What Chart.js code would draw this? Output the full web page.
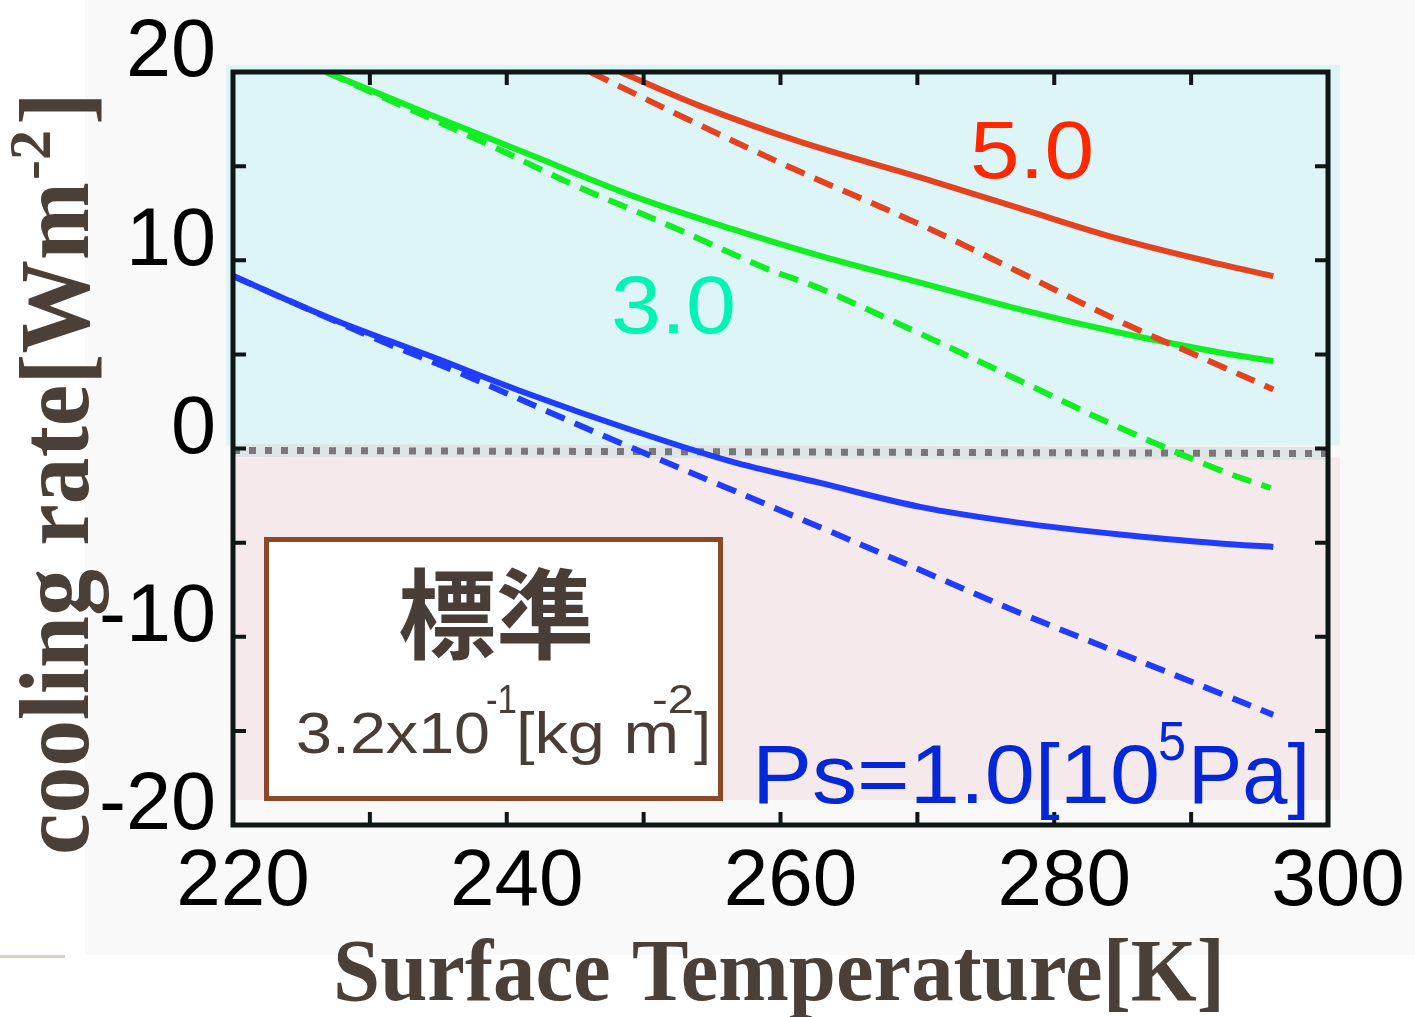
<!DOCTYPE html>
<html>
<head>
<meta charset="utf-8">
<script src="https://cdn.jsdelivr.net/npm/chart.js@4.4.1/dist/chart.umd.min.js"></script>
<style>
  html, body { margin: 0; padding: 0; background: #ffffff; }
  #wrap { width: 1415px; height: 1017px; position: relative; }
</style>
</head>
<body>
<div id="wrap"><canvas id="coolChart" width="1415" height="1017"></canvas></div>
<script>
// Axis ticks and labels
const xTickLabels = [220, 240, 260, 280, 300];
const yTickLabels = [20, 10, 0, -10, -20];
const xTickMarks = [220, 230, 240, 250, 260, 270, 280, 290, 300];
const yTickMarks = [20, 15, 10, 5, 0, -5, -10, -15, -20];

// Ps = 1.0 (blue)
const blueSolidT = [220, 227, 234.4, 241.7, 249, 256.3, 262.9, 270.2, 277.5, 284.8, 292.1, 296];
const blueSolidV = [9.16, 6.95, 4.91, 2.87, 1.01, -0.67, -1.83, -3.1, -3.95, -4.57, -5.05, -5.23];
const blueDashT = [220, 230.7, 236.8, 243.2, 248, 255.8, 263.6, 270.7, 277.5, 284.8, 292.1, 296];
const blueDashV = [9.16, 5.75, 3.94, 1.9, 0.39, -2.0, -4.4, -6.61, -8.74, -10.87, -13.0, -14.15];

// 3.0 (green)
const greenSolidT = [226.8, 234.6, 241.9, 249.2, 256.5, 262.9, 270.2, 277.5, 284.8, 292.1, 296];
const greenSolidV = [20, 17.68, 15.55, 13.42, 11.65, 10.23, 8.81, 7.39, 6.15, 5.1, 4.64];
const greenDashT = [226.8, 238.5, 244.9, 251.7, 259, 262.9, 270.2, 277.5, 284.8, 292.1, 295.8];
const greenDashV = [20, 16.2, 14.0, 11.9, 9.55, 8.5, 6.1, 3.6, 1.1, -1.15, -2.1];

// 5.0 (red)
const redSolidT = [248.3, 254.1, 261.4, 270.2, 277.5, 284.8, 292.1, 296];
const redSolidV = [20, 18.2, 16.3, 14.4, 12.75, 11.12, 9.79, 9.16];
const redDashT = [246.1, 252.9, 260.2, 270.2, 277.5, 284.8, 292.1, 296];
const redDashV = [20, 17.6, 15.1, 11.9, 9.35, 6.75, 4.4, 3.14];

// zero reference (dotted)
const zeroT = [220, 300];
const zeroV = [-0.1, -0.27];

function pts(ts, vs) {
    return ts.map((t, i) => ({ x: t, y: vs[i] }));
}

// draw text squeezed/stretched to a given width
function fitText(ctx, text, x, y, width) {
    const w = ctx.measureText(text).width;
    ctx.save();
    ctx.translate(x, y);
    ctx.scale(width / w, 1);
    ctx.fillText(text, 0, 0);
    ctx.restore();
}

const BLUE = '#1f3cff';
const GREEN = '#11ee22';
const RED = '#e5431f';
const DASH = [20, 11];

// page background + coloured panels
const panelPlugin = {
    id: 'panels',
    beforeDraw(chart) {
        const c = chart.ctx;
        c.save();
        c.fillStyle = '#ffffff';
        c.fillRect(0, 0, chart.width, chart.height);
        c.fillStyle = '#f9f9f9';
        c.fillRect(85, 0, chart.width - 85, 955);
        c.fillStyle = '#ddd0b6';
        c.fillRect(0, 955, 65, 3);
        c.restore();
    },
    beforeDatasetsDraw(chart) {
        const c = chart.ctx;
        const x = chart.scales.x, y = chart.scales.y;
        const left = x.getPixelForValue(220), right = x.getPixelForValue(300);
        const y0 = y.getPixelForValue(0);
        c.save();
        c.fillStyle = '#ddf5f6';
        c.fillRect(left - 7, y.getPixelForValue(20) - 7, right - left + 19, y0 - 3 - (y.getPixelForValue(20) - 7));
        c.fillStyle = '#f6e9ec';
        c.fillRect(left, y0 + 9, right - left + 12, 800 - (y0 + 9));
        c.restore();
    }
};

// frame, inward ticks, tick labels, titles and notes
const framePlugin = {
    id: 'frame',
    afterDatasetsDraw(chart) {
        const c = chart.ctx;
        const x = chart.scales.x, y = chart.scales.y;
        const L = x.getPixelForValue(220), R = x.getPixelForValue(300);
        const T = y.getPixelForValue(20), B = y.getPixelForValue(-20);
        c.save();
        c.strokeStyle = '#0e1616';
        c.lineWidth = 5;
        c.strokeRect(L, T, R - L, B - T);
        c.lineWidth = 4;
        c.beginPath();
        xTickMarks.forEach(v => {
            const px = x.getPixelForValue(v);
            c.moveTo(px, B); c.lineTo(px, B - 13);
            c.moveTo(px, T); c.lineTo(px, T + 13);
        });
        yTickMarks.forEach(v => {
            const py = y.getPixelForValue(v);
            c.moveTo(L, py); c.lineTo(L + 13, py);
            c.moveTo(R, py); c.lineTo(R - 13, py);
        });
        c.stroke();

        // tick labels
        c.fillStyle = '#000000';
        c.font = '81px "Liberation Sans", Arial, sans-serif';
        c.textAlign = 'right';
        c.textBaseline = 'middle';
        yTickLabels.forEach(v => {
            c.fillText(String(v).replace('-', '-'), 216, y.getPixelForValue(v) - 18);
        });
        c.textAlign = 'center';
        c.textBaseline = 'alphabetic';
        c.font = '80px "Liberation Sans", Arial, sans-serif';
        xTickLabels.forEach(v => {
            c.fillText(String(v), x.getPixelForValue(v) + 10, 905);
        });
        c.restore();
    },
    afterDraw(chart) {
        const c = chart.ctx;
        c.save();
        c.textAlign = 'left';
        c.textBaseline = 'alphabetic';

        // x title
        c.fillStyle = '#4b4037';
        c.font = 'bold 88px "Liberation Serif", "Times New Roman", serif';
        fitText(c, 'Surface Temperature[K]', 333, 1000, 892);

        // y title (rotated)
        c.save();
        c.translate(88, 855);
        c.rotate(-Math.PI / 2);
        c.font = 'bold 100px "Liberation Serif", "Times New Roman", serif';
        fitText(c, 'cooling rate[Wm', 0, 0, 673);
        c.font = 'bold 60px "Liberation Serif", "Times New Roman", serif';
        fitText(c, '-2', 675, -38, 50);
        c.font = 'bold 100px "Liberation Serif", "Times New Roman", serif';
        fitText(c, ']', 730, 0, 33);
        c.restore();

        // curve labels
        c.font = '81px "Liberation Sans", Arial, sans-serif';
        c.fillStyle = '#ff2600';
        fitText(c, '5.0', 970, 178, 124);
        c.fillStyle = '#00f5b4';
        fitText(c, '3.0', 611, 333, 125);

        c.fillStyle = '#0428d8';
        c.font = '84px "Liberation Sans", Arial, sans-serif';
        fitText(c, 'Ps=1.0[10', 752, 803, 408);
        c.font = '56px "Liberation Sans", Arial, sans-serif';
        fitText(c, '5', 1158, 760, 28);
        c.font = '84px "Liberation Sans", Arial, sans-serif';
        fitText(c, 'Pa]', 1188, 803, 122);

        // legend box
        c.fillStyle = '#ffffff';
        c.fillRect(266, 539, 454, 260);
        c.strokeStyle = '#8a4a2a';
        c.lineWidth = 5;
        c.strokeRect(266.5, 539.5, 454, 259);

        c.fillStyle = '#483e37';
        c.font = 'bold 98px "Noto Sans CJK JP", sans-serif';
        c.textAlign = 'center';
        c.textBaseline = 'middle';
        c.fillText('標準', 496, 614);

        c.textAlign = 'left';
        c.textBaseline = 'alphabetic';
        c.font = '57px "Liberation Sans", Arial, sans-serif';
        fitText(c, '3.2x10', 296, 753, 194);
        c.font = '40px "Liberation Sans", Arial, sans-serif';
        fitText(c, '-1', 486, 713, 31);
        c.font = '57px "Liberation Sans", Arial, sans-serif';
        fitText(c, '[kg m', 516, 753, 163);
        c.font = '40px "Liberation Sans", Arial, sans-serif';
        fitText(c, '-2', 652, 713, 42);
        c.font = '57px "Liberation Sans", Arial, sans-serif';
        fitText(c, ']', 694, 753, 17);
        c.restore();
    }
};

const ctx = document.getElementById('coolChart').getContext('2d');

new Chart(ctx, {
    type: 'line',
    data: {
        datasets: [
            { data: pts(redSolidT, redSolidV), borderColor: RED, order: 1 },
            { data: pts(redDashT, redDashV), borderColor: RED, borderDash: DASH, order: 1 },
            { data: pts(greenSolidT, greenSolidV), borderColor: GREEN, order: 1 },
            { data: pts(greenDashT, greenDashV), borderColor: GREEN, borderDash: DASH, order: 1 },
            { data: pts(blueSolidT, blueSolidV), borderColor: BLUE, order: 1 },
            { data: pts(blueDashT, blueDashV), borderColor: BLUE, borderDash: DASH, order: 1 },
            // zero line: dotted on a pale band
            { data: pts(zeroT, zeroV), borderColor: '#787878', borderWidth: 7, borderDash: [7, 9], tension: 0, order: 2, clip: false },
            { data: pts(zeroT, zeroV), borderColor: '#dfe5e6', borderWidth: 13, tension: 0, order: 3, clip: false }
        ]
    },
    options: {
        responsive: false,
        animation: false,
        devicePixelRatio: 1,
        layout: { padding: { left: 233, right: 87, top: 72, bottom: 192 } },
        elements: {
            line: { borderWidth: 6, tension: 0.35, fill: false, borderCapStyle: 'butt' },
            point: { radius: 0, hoverRadius: 0 }
        },
        plugins: {
            legend: { display: false },
            tooltip: { enabled: false }
        },
        scales: {
            x: { type: 'linear', min: 220, max: 300, display: false },
            y: { type: 'linear', min: -20, max: 20, display: false }
        }
    },
    plugins: [panelPlugin, framePlugin]
});
</script>
</body>
</html>
